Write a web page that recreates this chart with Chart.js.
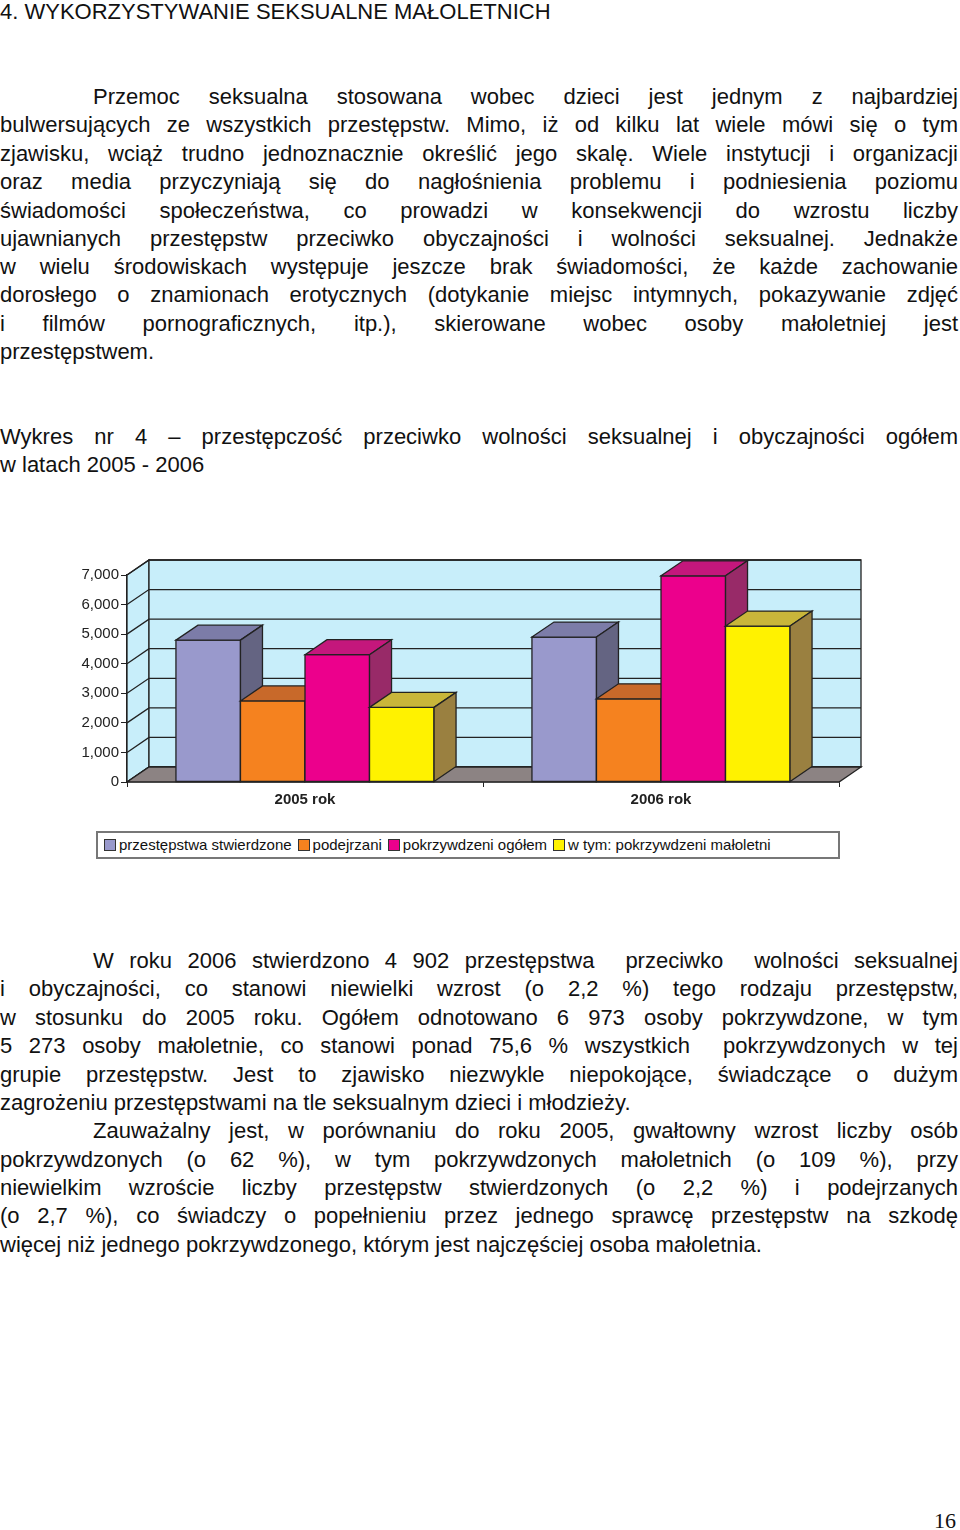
<!DOCTYPE html>
<html>
<head>
<meta charset="utf-8">
<script src="https://cdn.jsdelivr.net/npm/chart.js@4"></script>
<style>
body { margin:0; width:960px; height:1530px; position:relative; background:#fff; font-family:"Liberation Sans", Arial, sans-serif; color:#111; }
.l { position:absolute; left:0; width:958px; height:28px; line-height:28px; font-size:22px; white-space:nowrap; }
.j { text-align:justify; text-align-last:justify; white-space:normal; }
.i { left:93px; width:865px; }
#wrap { position:absolute; left:0; top:540px; width:900px; height:280px; }
#legend { position:absolute; left:96px; top:831px; width:744px; height:28px; border:2px solid #777; box-sizing:border-box; font-size:15px; line-height:24px; white-space:nowrap; padding-left:6px; }
#legend span.b { display:inline-block; width:10px; height:10px; border:1px solid #333; margin-right:3px; vertical-align:-1px; }
#legend span.t { margin-right:6px; }
#page { position:absolute; left:934px; top:1508px; font-family:"Liberation Serif", serif; font-size:22px; }
</style>
</head>
<body>
<div class="l" style="top:-2px">4. WYKORZYSTYWANIE SEKSUALNE MAŁOLETNICH</div>

<div class="l j i" style="top:83px">Przemoc seksualna stosowana wobec dzieci jest jednym z najbardziej</div>
<div class="l j" style="top:111px">bulwersujących ze wszystkich przestępstw. Mimo, iż od kilku lat wiele mówi się o tym</div>
<div class="l j" style="top:140px">zjawisku, wciąż trudno jednoznacznie określić jego skalę. Wiele instytucji i organizacji</div>
<div class="l j" style="top:168px">oraz media przyczyniają się do nagłośnienia problemu i podniesienia poziomu</div>
<div class="l j" style="top:197px">świadomości społeczeństwa, co prowadzi w konsekwencji do wzrostu liczby</div>
<div class="l j" style="top:225px">ujawnianych przestępstw przeciwko obyczajności i wolności seksualnej. Jednakże</div>
<div class="l j" style="top:253px">w wielu środowiskach występuje jeszcze brak świadomości, że każde zachowanie</div>
<div class="l j" style="top:281px">dorosłego o znamionach erotycznych (dotykanie miejsc intymnych, pokazywanie zdjęć</div>
<div class="l j" style="top:310px">i filmów pornograficznych, itp.), skierowane wobec osoby małoletniej jest</div>
<div class="l" style="top:338px">przestępstwem.</div>

<div class="l j" style="top:423px">Wykres nr 4 – przestępczość przeciwko wolności seksualnej i obyczajności ogółem</div>
<div class="l" style="top:451px">w latach 2005 - 2006</div>

<div id="wrap"><canvas id="c"></canvas></div>
<div id="legend"></div>

<div class="l j i" style="top:947px">W roku 2006 stwierdzono 4 902 przestępstwa &nbsp;przeciwko &nbsp;wolności seksualnej</div>
<div class="l j" style="top:975px">i obyczajności, co stanowi niewielki wzrost (o 2,2 %) tego rodzaju przestępstw,</div>
<div class="l j" style="top:1004px">w stosunku do 2005 roku. Ogółem odnotowano 6 973 osoby pokrzywdzone, w tym</div>
<div class="l j" style="top:1032px">5 273 osoby małoletnie, co stanowi ponad 75,6 % wszystkich &nbsp;pokrzywdzonych w tej</div>
<div class="l j" style="top:1061px">grupie przestępstw. Jest to zjawisko niezwykle niepokojące, świadczące o dużym</div>
<div class="l" style="top:1089px">zagrożeniu przestępstwami na tle seksualnym dzieci i młodzieży.</div>
<div class="l j i" style="top:1117px">Zauważalny jest, w porównaniu do roku 2005, gwałtowny wzrost liczby osób</div>
<div class="l j" style="top:1146px">pokrzywdzonych (o 62 %), w tym pokrzywdzonych małoletnich (o 109 %), przy</div>
<div class="l j" style="top:1174px">niewielkim wzroście liczby przestępstw stwierdzonych (o 2,2 %) i podejrzanych</div>
<div class="l j" style="top:1202px">(o 2,7 %), co świadczy o popełnieniu przez jednego sprawcę przestępstw na szkodę</div>
<div class="l" style="top:1231px">więcej niż jednego pokrzywdzonego, którym jest najczęściej osoba małoletnia.</div>

<div id="page">16</div>

<script>
const categories = ['2005 rok', '2006 rok'];
const seriesNames = ['przestępstwa stwierdzone', 'podejrzani', 'pokrzywdzeni ogółem', 'w tym: pokrzywdzeni małoletni'];
const stwierdzone = [4797, 4902];
const podejrzani = [2740, 2814];
const pokrzywdzeni = [4304, 6973];
const maloletni = [2523, 5273];
const yTicks = [0, 1000, 2000, 3000, 4000, 5000, 6000, 7000];

const front = ['#9999cc', '#f5821f', '#ec008c', '#fff200'];
const top_ = ['#7c7ca8', '#c8692a', '#c4177c', '#c9b63a'];
const side = ['#646482', '#a8552a', '#982a68', '#9a8040'];
const DX = 22, DY = -15;

function quad(ctx, pts, fill) {
    ctx.beginPath();
    ctx.moveTo(pts[0][0], pts[0][1]);
    for (let k = 1; k < pts.length; k++) ctx.lineTo(pts[k][0], pts[k][1]);
    ctx.closePath();
    ctx.fillStyle = fill;
    ctx.fill();
    ctx.stroke();
}

const box3d = {
    id: 'box3d',
    beforeDatasetsDraw(chart) {
        const ctx = chart.ctx, a = chart.chartArea, y = chart.scales.y;
        ctx.save();
        ctx.strokeStyle = '#222';
        ctx.lineWidth = 1.3;
        // left wall + back wall
        quad(ctx, [[a.left, a.top], [a.left + DX, a.top + DY], [a.left + DX, a.bottom + DY], [a.left, a.bottom]], '#c8eefa');
        quad(ctx, [[a.left + DX, a.top + DY], [a.right + DX, a.top + DY], [a.right + DX, a.bottom + DY], [a.left + DX, a.bottom + DY]], '#c8eefa');
        yTicks.forEach(t => {
            const py = y.getPixelForValue(t);
            ctx.beginPath();
            ctx.moveTo(a.left, py);
            ctx.lineTo(a.left + DX, py + DY);
            ctx.lineTo(a.right + DX, py + DY);
            ctx.stroke();
        });
        // floor
        quad(ctx, [[a.left, a.bottom], [a.right, a.bottom], [a.right + DX, a.bottom + DY], [a.left + DX, a.bottom + DY]], '#8c8383');
        ctx.restore();
    },
    afterDatasetsDraw(chart) {
        const ctx = chart.ctx;
        ctx.save();
        ctx.strokeStyle = '#222';
        ctx.lineWidth = 1.3;
        categories.forEach((c, i) => {
            chart.data.datasets.forEach((ds, d) => {
                const b = chart.getDatasetMeta(d).data[i];
                const l = b.x - b.width / 2, r = b.x + b.width / 2, t = b.y, base = b.base;
                quad(ctx, [[l, t], [r, t], [r, base], [l, base]], front[d]);
                quad(ctx, [[l, t], [l + DX, t + DY], [r + DX, t + DY], [r, t]], top_[d]);
                quad(ctx, [[r, t], [r + DX, t + DY], [r + DX, base + DY], [r, base]], side[d]);
            });
        });
        ctx.restore();
    }
};

new Chart(document.getElementById('c'), {
    type: 'bar',
    data: {
        labels: categories,
        datasets: [stwierdzone, podejrzani, pokrzywdzeni, maloletni].map((v, d) => ({
            label: seriesNames[d],
            data: v,
            backgroundColor: front[d],
            borderWidth: 0,
            barPercentage: 1,
            categoryPercentage: 0.725
        }))
    },
    plugins: [box3d],
    options: {
        responsive: true,
        maintainAspectRatio: false,
        animation: false,
        layout: { padding: { top: 35, right: 61, left: 0, bottom: 0 } },
        plugins: { legend: { display: false }, tooltip: { enabled: false } },
        scales: {
            y: {
                min: 0, max: 7000,
                afterFit: s => { s.width = 127; },
                ticks: { stepSize: 1000, color: '#222', font: { family: 'Liberation Sans', size: 15 }, padding: 2 },
                grid: { drawOnChartArea: false, tickLength: 6, color: '#222' },
                border: { color: '#222', width: 1.3 }
            },
            x: {
                afterFit: s => { s.height = 38; },
                ticks: { color: '#222', font: { family: 'Liberation Sans', size: 15, weight: 'bold' }, padding: 4 },
                grid: { drawOnChartArea: false, tickLength: 5, color: '#222', offset: true },
                border: { color: '#222', width: 1.3 }
            }
        }
    }
});

document.getElementById('legend').innerHTML = seriesNames.map((n, d) =>
    '<span class="b" style="background:' + front[d] + '"></span><span class="t">' + n + '</span>').join('');
</script>
</body>
</html>
